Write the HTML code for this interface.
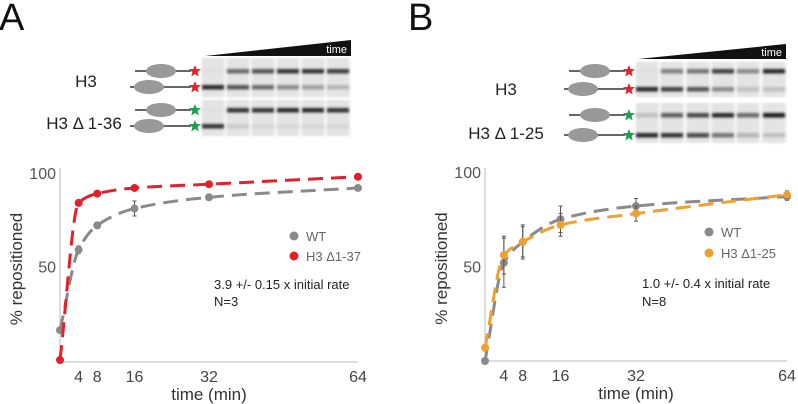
<!DOCTYPE html>
<html><head><meta charset="utf-8"><style>
html,body{margin:0;padding:0;background:#fff}
svg{display:block;font-family:"Liberation Sans",sans-serif}
</style></head><body>
<svg id="fig" width="798" height="404" viewBox="0 0 798 404">
<defs>
<filter id="bl" x="-20%" y="-100%" width="140%" height="300%"><feGaussianBlur stdDeviation="1.3"/></filter>
<polygon id="star" points="0,-6 1.6,-2 6,-1.9 2.6,1 3.7,5.5 0,3 -3.7,5.5 -2.6,1 -6,-1.9 -1.6,-2"/>
</defs>
<text x="-1" y="30" font-size="38" fill="#111">A</text>
<text x="408" y="30" font-size="38" fill="#111">B</text>
<g id="gels"></g>
<g id="chartA"></g>
<g id="chartB"></g>
</svg>
<script>
// ---- data ----
const timesA = [0, 4, 8, 16, 32, 64];
const wtA = [16, 59, 72, 81, 87, 92];
const wtAErr = [0, 2, 1, 4, 1, 1];
const delA = [0, 84, 89, 92, 94, 98];
const timesB = [0, 4, 8, 16, 32, 64];
const wtB = [0, 52, 63, 75, 82, 87];
const wtBErr = [0, 13, 9, 7, 4, 2];
const delB = [7, 56, 63, 72, 78, 88];
const delBErr = [0, 10, 8, 6, 4, 2];
const xTicks = [4, 8, 16, 32, 64];
const yTicks = [50, 100];
// gel band intensities (upper, lower) per lane
const gelA1 = [[0.05,0.9],[0.6,0.7],[0.7,0.6],[0.85,0.45],[0.85,0.35],[0.8,0.25]];
const gelA2 = [[0.05,0.85],[0.85,0.15],[0.85,0.1],[0.9,0.1],[0.9,0.1],[0.85,0.1]];
const gelB1 = [[0.05,0.9],[0.5,0.8],[0.55,0.7],[0.8,0.45],[0.45,0.2],[0.9,0.2]];
const gelB2 = [[0.2,0.9],[0.65,0.85],[0.75,0.75],[0.9,0.55],[0.6,0.25],[0.95,0.2]];

const NS="http://www.w3.org/2000/svg";
function mk(tag,attrs,parent){const e=document.createElementNS(NS,tag);for(const k in attrs)e.setAttribute(k,attrs[k]);parent.appendChild(e);return e;}

// ---- gels / cartoons ----
const gels=document.getElementById('gels');
function gelPanel(x0,lanes,tri,rows,labels,ox){
  const t=mk('polygon',{points:`${tri[0]},${tri[3]} ${tri[1]},${tri[2]} ${tri[1]},${tri[3]}`,fill:'#111'},gels);
  
  
  const tt=mk('text',{x:tri[1]-4,y:tri[3]-3,'font-size':11,fill:'#fff','text-anchor':'end'},gels);
  tt.textContent='time';
  
  
  rows.forEach((r,ri)=>{
    const g=mk('g',{},gels);
    
    
    mk('rect',{x:lanes[0]-11,y:r.y0,width:lanes[5]-lanes[0]+24,height:r.h,fill:'#f6f6f6'},g);
    r.d.forEach((b,i)=>{
      mk('rect',{x:lanes[i]-11,y:r.y0,width:22,height:r.h,fill:'#e4e4e4',filter:'url(#bl)'},g);
      [0,1].forEach(k=>{
        const v=b[k];const c=Math.round(235-v*215);
        mk('rect',{x:lanes[i]-11,y:r.bands[k]-2,width:22,height:4.5,fill:`rgb(${c},${c},${c})`,filter:'url(#bl)'},g);
      });
    });
    [0,1].forEach(k=>{
      const y=r.bands[k];const cx=k===0?ox+28:ox+16;
      mk('line',{x1:ox+(k===0?2:-3),y1:y,x2:ox+58,y2:y,stroke:'#333','stroke-width':1.5},g);
      mk('ellipse',{cx:cx,cy:y,rx:15,ry:7,fill:'#999'},g);
      mk('use',{href:'#star',x:ox+62,y:y,fill:r.star},g);
    });
  });
  labels.forEach(l=>{
    const e=mk('text',{x:l.x,y:l.y,'font-size':17,fill:'#222','text-anchor':'middle'},gels);
    e.textContent=l.t;
    
    
  });
}
gelPanel(0,[213,238,263,288,313,338],[205,351,40,56],
 [{y0:58,h:39,bands:[71,87],d:gelA1,star:'#e8202a'},{y0:100,h:36,bands:[110,126],d:gelA2,star:'#1fa050'}],
 [{x:86,y:87,t:'H3'},{x:84,y:129,t:'H3 Δ 1-36'}],133);
gelPanel(0,[647,672,698,723,748,774],[638,786,44,59],
 [{y0:62,h:35,bands:[71,89],d:gelB1,star:'#e8202a'},{y0:103,h:40,bands:[115,135],d:gelB2,star:'#1fa050'}],
 [{x:506,y:95,t:'H3'},{x:506,y:139,t:'H3 Δ 1-25'}],567);

// monotone cubic (Fritsch-Carlson)
function curve(pts){
  const n=pts.length,dx=[],m=[],s=[];
  for(let i=0;i<n-1;i++){dx[i]=pts[i+1][0]-pts[i][0];s[i]=(pts[i+1][1]-pts[i][1])/dx[i];}
  m[0]=s[0];m[n-1]=s[n-2];
  for(let i=1;i<n-1;i++){m[i]=(s[i-1]*s[i]<=0)?0:(3*(dx[i-1]+dx[i]))/((2*dx[i]+dx[i-1])/s[i-1]+(dx[i]+2*dx[i-1])/s[i]);}
  let d=`M${pts[0][0]},${pts[0][1]}`;
  for(let i=0;i<n-1;i++){
    const h=dx[i]/3;
    d+=` C${pts[i][0]+h},${pts[i][1]+m[i]*h} ${pts[i+1][0]-h},${pts[i+1][1]-m[i+1]*h} ${pts[i+1][0]},${pts[i+1][1]}`;
  }
  return d;
}
function chart(id,ax,times,series,legend,note){
  const g=document.getElementById(id);
  const X=t=>ax.x0+(ax.x1-ax.x0)*t/64;
  const Y=v=>ax.y0-(ax.y0-ax.y100)*v/100;
  const ya=mk('line',{x1:ax.x0,y1:ax.yTop,x2:ax.x0,y2:ax.base,stroke:'#bbb','stroke-width':1},g);
  
  const xa=mk('line',{x1:ax.x0,y1:ax.base,x2:ax.x1,y2:ax.base,stroke:'#bbb','stroke-width':1},g);
  
  xTicks.forEach(t=>{const e=mk('text',{x:X(t),y:ax.base+20,'font-size':16,fill:'#444','text-anchor':'middle'},g);e.textContent=t;
    });
  yTicks.forEach(v=>{const e=mk('text',{x:ax.x0-4,y:Y(v)+6,'font-size':16,fill:'#555','text-anchor':'end'},g);e.textContent=v;
    });
  const xt=mk('text',{x:(ax.x0+ax.x1)/2,y:ax.base+38,'font-size':17,fill:'#333','text-anchor':'middle'},g);xt.textContent='time (min)';
  
  const yt=mk('text',{transform:`translate(${ax.x0-38},${(ax.yTop+ax.base)/2+4}) rotate(-90)`,'font-size':17,fill:'#333','text-anchor':'middle'},g);yt.textContent='% repositioned';
  
  series.forEach(s=>{
    const pts=times.map((t,i)=>[X(t),Y(s.v[i])]);
    const p=mk('path',{d:curve(pts),fill:'none',stroke:s.c,'stroke-width':3,'stroke-dasharray':'15,8'},g);
    
    times.forEach((t,i)=>{
      if(s.e&&s.e[i]){const eb=mk('path',{d:`M${X(t)},${Y(s.v[i]-s.e[i])}V${Y(s.v[i]+s.e[i])}M${X(t)-2},${Y(s.v[i]-s.e[i])}h4M${X(t)-2},${Y(s.v[i]+s.e[i])}h4`,stroke:'#555','stroke-width':1,fill:'none'},g);
        }
      const c=mk('circle',{cx:X(t),cy:Y(s.v[i]),r:4,fill:s.c},g);
      
    });
  });
  legend.forEach((l,i)=>{
    const c=mk('circle',{cx:l.x,cy:l.y,r:4.5,fill:l.c},g);
    
    const e=mk('text',{x:l.x+12,y:l.y+5,'font-size':13,fill:'#666'},g);e.textContent=l.t;
    
  });
  note.forEach((n,i)=>{const e=mk('text',{x:n.x,y:n.y,'font-size':13,fill:'#222'},g);e.textContent=n.t;
    });
}
chart('chartA',{x0:60,x1:358,y0:360,y100:173,yTop:168,base:362},timesA,
 [{name:'wt',v:wtA,e:wtAErr,c:'#8a8a8a'},{name:'h3-del1-37',v:delA,c:'#e3202a'}],
 [{x:294,y:236,c:'#8a8a8a',t:'WT'},{x:294,y:256,c:'#e3202a',t:'H3 Δ1-37'}],
 [{x:214,y:289,t:'3.9 +/- 0.15 x initial rate'},{x:214,y:306,t:'N=3'}]);
chart('chartB',{x0:485,x1:787,y0:361,y100:172,yTop:168,base:361},timesB,
 [{name:'wt',v:wtB,e:wtBErr,c:'#8a8a8a'},{name:'h3-del1-25',v:delB,e:delBErr,c:'#f0a030'}],
 [{x:709,y:232,c:'#8a8a8a',t:'WT'},{x:709,y:253,c:'#f0a030',t:'H3 Δ1-25'}],
 [{x:642,y:288,t:'1.0 +/- 0.4 x initial rate'},{x:642,y:306,t:'N=8'}]);
</script>
</body></html>
